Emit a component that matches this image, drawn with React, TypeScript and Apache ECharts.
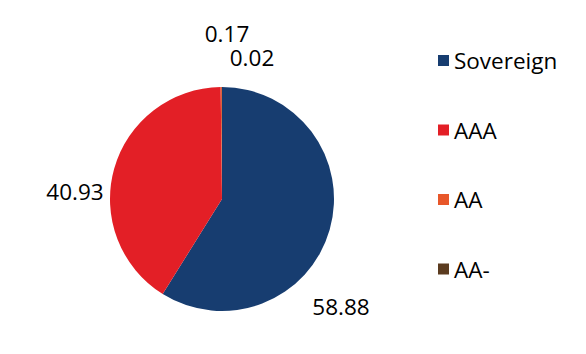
import React, { useEffect, useRef } from "react";
import * as echarts from "echarts";

const categories = ["Sovereign", "AAA", "AA", "AA-"];
const values = [58.88, 40.93, 0.17, 0.02];
const colors = ["#173d70", "#e31f26", "#e8572a", "#5b3b1f"];
const labelPositions: [number, number][] = [
  [333, 298],
  [67, 183],
  [219, 25],
  [244, 49],
];

export default function App() {
  const ref = useRef<HTMLDivElement>(null);
  useEffect(() => {
    if (!ref.current) return;
    const chart = echarts.init(ref.current, undefined, { renderer: "svg" });
    chart.setOption({
      animation: false,
      color: colors,
      legend: {
        orient: "vertical",
        left: 425,
        top: 36,
        itemWidth: 11,
        itemHeight: 11,
        itemGap: 46.5,
        icon: "rect",
        textStyle: {
          fontFamily: "Open Sans",
          fontSize: 22.5,
          color: "#000",
          padding: [0, 0, 0, 0],
        },
        data: categories,
      },
      series: [
        {
          type: "pie",
          center: [214, 191],
          radius: 112,
          startAngle: 90,
          clockwise: true,
          avoidLabelOverlap: false,
          itemStyle: { borderWidth: 0 },
          label: {
            show: true,
            formatter: (p: any) => p.value.toFixed(2),
            fontFamily: "Open Sans",
            fontSize: 22.5,
            color: "#000",
          },
          labelLine: { show: false },
          labelLayout: (p: any) => ({
            x: labelPositions[p.dataIndex][0],
            y: labelPositions[p.dataIndex][1],
            align: "center",
            verticalAlign: "middle",
          }),
          emphasis: { disabled: true },
          data: categories.map((c, i) => ({ name: c, value: values[i] })),
        },
      ],
    });
    return () => chart.dispose();
  }, []);
  return <div ref={ref} style={{ width: 570, height: 338 }} />;
}
